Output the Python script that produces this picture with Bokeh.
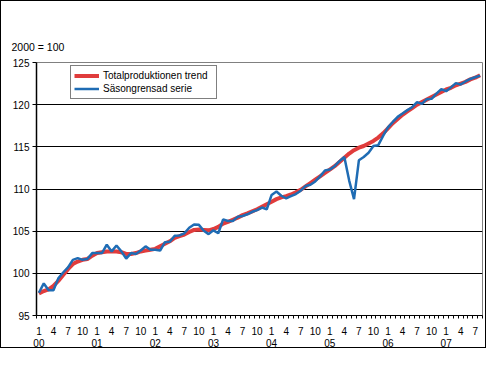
from bokeh.plotting import figure
from bokeh.models import FixedTicker, LinearAxis, Range1d, Legend, LegendItem
from bokeh.embed import file_html
from bokeh.resources import INLINE

# months from Jan 2000 (index 0) to Aug 2007 (index 91)
trend = [97.6, 97.9, 98.1, 98.5, 99.1, 99.8, 100.5, 101.1, 101.4, 101.6, 101.7, 102.1,
         102.4, 102.5, 102.6, 102.6, 102.6, 102.5, 102.3, 102.3, 102.4, 102.6, 102.7, 102.8,
         102.9, 103.2, 103.5, 103.8, 104.2, 104.4, 104.6, 104.9, 105.15, 105.2, 105.15, 105.1,
         105.25, 105.5, 105.9, 106.1, 106.35, 106.6, 106.9, 107.1, 107.35, 107.6, 107.9, 108.2,
         108.5, 108.8, 109.0, 109.15, 109.35, 109.6, 109.9, 110.3, 110.7, 111.1, 111.5, 111.9,
         112.3, 112.7, 113.2, 113.7, 114.2, 114.6, 114.9, 115.1, 115.4, 115.7, 116.1, 116.6,
         117.2, 117.8, 118.3, 118.8, 119.2, 119.6, 120.0, 120.3, 120.6, 120.9, 121.2, 121.5,
         121.8, 122.0, 122.3, 122.5, 122.7, 123.0, 123.2, 123.5]
seasonal = [97.7, 98.8, 98.0, 98.0, 99.4, 100.1, 100.7, 101.6, 101.8, 101.6, 101.7, 102.4,
            102.4, 102.4, 103.4, 102.6, 103.3, 102.6, 101.75, 102.4, 102.3, 102.7, 103.2, 102.8,
            102.8, 102.7, 103.7, 103.75, 104.45, 104.5, 104.75, 105.4, 105.8, 105.75, 105.05, 104.65,
            105.1, 104.75, 106.4, 106.2, 106.2, 106.7, 106.8, 107.0, 107.3, 107.5, 107.8, 107.6,
            109.3, 109.7, 109.2, 108.9, 109.15, 109.4, 109.8, 110.35, 110.5, 110.9, 111.5, 112.2,
            112.3, 112.7, 113.3, 113.8, 111.0, 108.8, 113.4, 113.8, 114.3, 115.1, 115.2, 116.3,
            117.3, 117.95, 118.55, 118.95, 119.35, 119.7, 120.3, 120.1, 120.65, 120.7, 121.3, 121.85,
            121.6, 122.05, 122.55, 122.4, 122.75, 123.05, 123.25, 123.45]
months = list(range(len(trend)))
month_tick_labels = ["1", "4", "7", "10"]
year_labels = ["00", "01", "02", "03", "04", "05", "06", "07"]
y_ticks = [95, 100, 105, 110, 115, 120, 125]
series_names = ["Totalproduktionen trend", "Säsongrensad serie"]

FONT = "Liberation Sans"

p = figure(width=486, height=348, output_backend="svg", toolbar_location=None,
           x_range=Range1d(-0.5, 91.5), y_range=Range1d(95, 125),
           min_border_left=35, min_border_right=5, min_border_top=61, min_border_bottom=34,
           background_fill_color="white", border_fill_color="white")
p.styles = {"border": "1px solid black"}
p.outline_line_color = "#808080"
p.outline_line_width = 1

p.title.text = "2000 = 100"
p.title.align = "left"
p.title.offset = -25
p.title.standoff = 20
p.title.text_font = FONT
p.title.text_font_size = "10.5px"
p.title.text_font_style = "normal"
p.title.text_color = "black"

# y axis
yax = p.yaxis[0]
yax.ticker = FixedTicker(ticks=y_ticks)
yax.major_tick_out = 4
yax.major_tick_in = 0
yax.minor_tick_line_color = None
yax.major_label_standoff = 3
yax.major_label_text_font = FONT
yax.major_label_text_font_size = "10px"
yax.major_label_text_color = "black"
yax.axis_line_color = "black"
yax.axis_line_width = 1.5
yax.major_tick_line_color = "black"

p.ygrid.ticker = FixedTicker(ticks=[100, 105, 110, 115, 120])
p.ygrid.grid_line_color = "black"
p.ygrid.grid_line_width = 1
p.xgrid.visible = False

# month axis
month_pos = list(range(0, len(trend), 3))
xax = p.xaxis[0]
xax.ticker = FixedTicker(ticks=month_pos, minor_ticks=[m - 0.5 for m in range(len(trend) + 1)])
xax.major_label_overrides = {m: month_tick_labels[(m % 12) // 3] for m in month_pos}
xax.major_tick_out = 0
xax.major_tick_in = 0
xax.major_tick_line_color = None
xax.minor_tick_out = 3
xax.minor_tick_in = 0
xax.minor_tick_line_color = "black"
xax.axis_line_color = "black"
xax.major_label_standoff = 8
xax.major_label_text_font = FONT
xax.major_label_text_font_size = "10px"
xax.major_label_text_color = "black"

# year axis
year_pos = list(range(0, len(trend), 12))
yr = LinearAxis(ticker=FixedTicker(ticks=year_pos),
                major_label_overrides={m: year_labels[i] for i, m in enumerate(year_pos)})
yr.axis_line_color = None
yr.major_tick_line_color = None
yr.minor_tick_line_color = None
yr.major_tick_out = 0
yr.major_tick_in = 0
yr.major_label_standoff = 1
yr.major_label_text_font = FONT
yr.major_label_text_font_size = "10px"
yr.major_label_text_color = "black"
p.add_layout(yr, "below")

r1 = p.line(months, trend, line_color="#e03c3c", line_width=4)
r2 = p.line(months, seasonal, line_color="#1f6cb4", line_width=2.5)

legend = Legend(items=[LegendItem(label=series_names[0], renderers=[r1]),
                       LegendItem(label=series_names[1], renderers=[r2])],
                location=(34, 216))
legend.border_line_color = "black"
legend.border_line_width = 1
legend.background_fill_color = "white"
legend.background_fill_alpha = 1
legend.padding = 3
legend.spacing = 0
legend.margin = 0
legend.glyph_width = 25
legend.glyph_height = 13
legend.label_height = 13
legend.label_width = 110
legend.label_standoff = 4
legend.label_text_font = FONT
legend.label_text_font_size = "10px"
legend.label_text_color = "black"
p.add_layout(legend, "center")

open("out.html", "w").write(file_html(p, INLINE))
